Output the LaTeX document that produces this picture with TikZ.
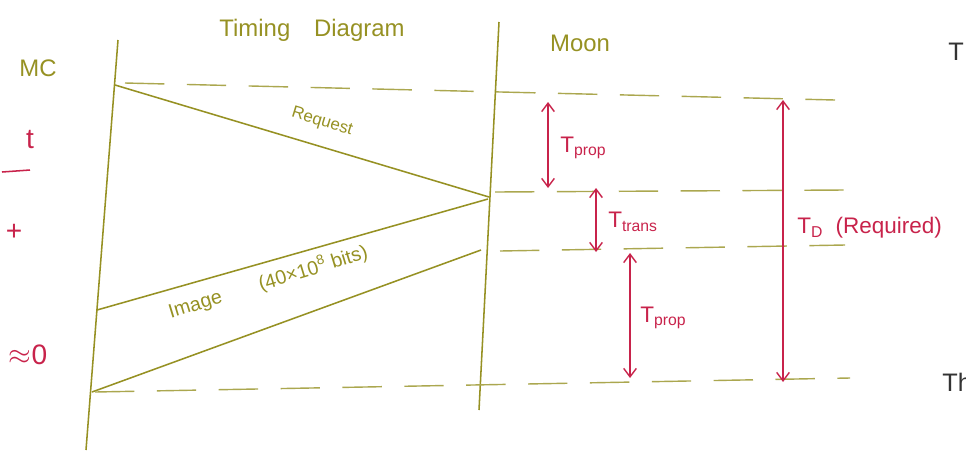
\documentclass[tikz,border=0pt]{standalone}
\usepackage{fontspec}
\setmainfont{Liberation Sans}
\usetikzlibrary{arrows.meta}
\definecolor{olivepen}{RGB}{150,145,35}
\definecolor{redpen}{RGB}{200,35,75}
\definecolor{magpen}{RGB}{215,40,170}
\begin{document}
\begin{tikzpicture}[x=0.025cm,y=-0.025cm,
  pen/.style={draw=olivepen,line width=1.1pt},
  dash line/.style={draw=olivepen!80,line width=1pt,dash pattern=on 28pt off 16pt},
  dimarrow/.style={draw=redpen,line width=1pt,{Straight Barb[length=6pt,width=9pt]}-{Straight Barb[length=6pt,width=9pt]}},
  oltext/.style={text=olivepen,inner sep=0pt,font=\fontsize{17}{19}\selectfont},
  rdtext/.style={text=redpen,inner sep=0pt,font=\fontsize{16}{18}\selectfont}]
\useasboundingbox (0,0) rectangle (966,450);
% time lines
\coordinate (L1) at (118,40);
\coordinate (L2) at (86,450);
\coordinate (R1) at (499,22);
\coordinate (R2) at (479,410);
\draw[pen] (L1) -- (L2);
\draw[pen] (R1) -- (R2);
% points
\coordinate (rqs) at (115,85);
\coordinate (rqe) at (489,197);
\coordinate (ims1) at (97,310);
\coordinate (ime1) at (488,199);
\coordinate (ims2) at (92,392);
\coordinate (ime2) at (481,250);
\draw[pen] (rqs) -- (rqe);
\draw[pen] (ims1) -- (ime1);
\draw[pen] (ims2) -- (ime2);
% dashed levels
\coordinate (d1a) at (125,83);
\coordinate (d1b) at (835,100);
\coordinate (d2a) at (495,192);
\coordinate (d2b) at (845,190);
\coordinate (d3a) at (500,251);
\coordinate (d3b) at (845,245);
\coordinate (d4a) at (95,392);
\coordinate (d4b) at (850,378);
\draw[dash line] (d1a) -- (d1b);
\draw[dash line] (d2a) -- (d2b);
\draw[dash line] (d3a) -- (d3b);
\draw[dash line] (d4a) -- (d4b);
% labels
\node[oltext] (title) at (312,30) {Timing\quad Diagram};
\node[oltext] (moon) at (580,43) {Moon};
\node[oltext] (mc) at (38,68) {MC};
\node[oltext,font=\fontsize{12}{14}\selectfont,rotate=-17] (req) at (322,122) {Request};
\node[oltext,font=\fontsize{14}{16}\selectfont,rotate=17] (img) at (268,282) {Image\qquad(40×10\textsuperscript{8} bits)};
% red dimension arrows
\coordinate (a1t) at (548,102);
\coordinate (a1b) at (548,188);
\coordinate (a2t) at (596,188);
\coordinate (a2b) at (596,252);
\coordinate (a3t) at (630,253);
\coordinate (a3b) at (630,378);
\coordinate (a4t) at (783,100);
\coordinate (a4b) at (783,382);
\draw[dimarrow] (a1t) -- (a1b);
\draw[dimarrow] (a2t) -- (a2b);
\draw[dimarrow] (a3t) -- (a3b);
\draw[dimarrow] (a4t) -- (a4b);
\node[rdtext,anchor=west] (tp1) at (560,148) {T$_{\mathrm{prop}}$};
\node[rdtext,anchor=west] (ttr) at (608,222) {T$_{\mathrm{trans}}$};
\node[rdtext,anchor=west] (tp2) at (640,318) {T$_{\mathrm{prop}}$};
\node[rdtext,anchor=west] (td) at (797,228) {T$_{\mathrm{D}}$\ \ (Required)};
% cut-off margin notes
\node[rdtext,font=\fontsize{20}{22}\selectfont] (tl) at (30,140) {t};
\coordinate (bar1) at (2,172);
\coordinate (bar2) at (30,170);
\draw[redpen,line width=1.1pt] (bar1) -- (bar2);
\node[rdtext,font=\fontsize{20}{22}\selectfont] (pl) at (14,232) {+};
\node[rdtext,font=\fontsize{20}{22}\selectfont] (approx) at (28,355) {$\approx$0};
\node[text=black!80,inner sep=0pt,font=\fontsize{18}{20}\selectfont,anchor=west] (rt) at (948,52) {T};
\node[text=black!80,inner sep=0pt,font=\fontsize{18}{20}\selectfont,anchor=west] (rth) at (942,382) {Th};
\end{tikzpicture}
\end{document}
